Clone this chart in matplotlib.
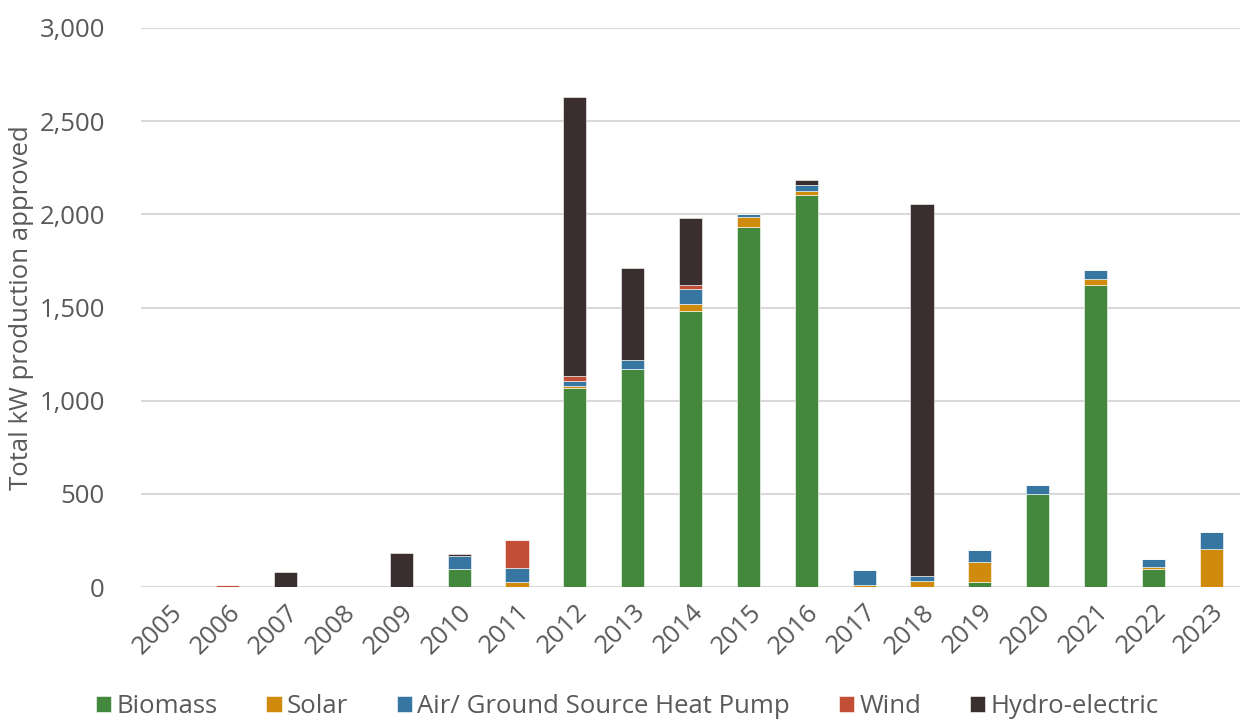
import numpy as np
import matplotlib.pyplot as plt

plt.rcParams['font.family'] = ['Open Sans', 'DejaVu Sans']

years = [str(y) for y in range(2005, 2024)]

# kW approved per technology and year
biomass = [0, 0, 0, 0, 0, 98, 0, 1070, 1168, 1482, 1930, 2105, 0, 0, 25, 500, 1622, 97, 0]
solar = [0, 0, 0, 0, 0, 0, 28, 8, 0, 36, 57, 18, 13, 30, 107, 0, 29, 12, 205]
heat_pump = [0, 0, 0, 0, 0, 68, 75, 27, 50, 81, 16, 34, 78, 27, 66, 50, 51, 40, 90]
wind = [0, 10, 0, 0, 0, 0, 152, 27, 0, 21, 0, 0, 0, 0, 0, 0, 0, 0, 0]
hydro = [0, 0, 82, 0, 183, 10, 0, 1500, 495, 361, 0, 27, 0, 2000, 0, 0, 0, 0, 0]

series = [
    ("Biomass", biomass, "#43883d"),
    ("Solar", solar, "#d08b0c"),
    ("Air/ Ground Source Heat Pump", heat_pump, "#3776a0"),
    ("Wind", wind, "#c24f35"),
    ("Hydro-electric", hydro, "#3a2f2e"),
]

text_col = "#595959"
fs = 18.5
fig = plt.figure(figsize=(12.42, 7.25), dpi=100)
ax = fig.add_axes([0.1135, 0.1903, 0.885, 0.7711])

x = np.arange(len(years))
bottom = np.zeros(len(years))
for name, vals, col in series:
    vals = np.array(vals, dtype=float)
    ax.bar(x, vals, 0.4, bottom=bottom, color=col, label=name,
           edgecolor="white", linewidth=0.4, zorder=3)
    bottom += vals

ax.set_ylim(0, 3000)
ax.set_xlim(-0.5, len(years) - 0.5)
ax.set_yticks(range(0, 3001, 500))
ax.set_yticklabels([f"{v:,}" for v in range(0, 3001, 500)])
ax.set_xticks(x)
ax.set_xticklabels(years, rotation=45, ha="right", rotation_mode="anchor")
ax.tick_params(axis="both", length=0, labelsize=fs, labelcolor=text_col)
ax.tick_params(axis="y", pad=26)
ax.tick_params(axis="x", pad=9)
ax.grid(axis="y", color="#d9d9d9", linewidth=1.5, zorder=0)
for s in ax.spines.values():
    s.set_visible(False)

ax.set_ylabel("Total kW production approved", fontsize=fs, color=text_col, labelpad=4)

leg = fig.legend(loc="lower center", bbox_to_anchor=(0.505, -0.024), ncol=5,
                 frameon=False, fontsize=fs, handlelength=0.6, handleheight=0.6,
                 handletextpad=0.2, columnspacing=1.9)
for t in leg.get_texts():
    t.set_color(text_col)

fig.savefig("out.png", dpi=100)
